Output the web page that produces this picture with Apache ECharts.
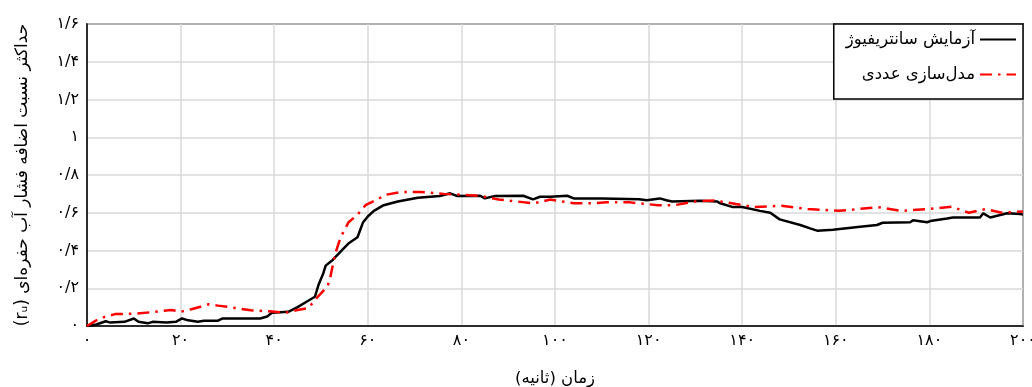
<!DOCTYPE html>
<html>
<head>
<meta charset="utf-8">
<script src="https://cdn.jsdelivr.net/npm/echarts@6/dist/echarts.min.js"></script>
<style>
html,body{margin:0;padding:0;background:#fff;}
#chart{width:1032px;height:387px;}
</style>
</head>
<body>
<div id="chart" dir="rtl"></div>
<script>
// ---- data ----
const seriesNames = ['آزمایش سانتریفیوژ', 'مدل‌سازی عددی'];
const xAxisTitle = 'زمان (ثانیه)';
const yAxisTitle = 'حداکثر نسبت اضافه فشار آب حفره‌ای (rᵤ)';
const xTickLabels = ['۰','۲۰','۴۰','۶۰','۸۰','۱۰۰','۱۲۰','۱۴۰','۱۶۰','۱۸۰','۲۰۰'];
const yTickLabels = ['۰','۰/۲','۰/۴','۰/۶','۰/۸','۱','۱/۲','۱/۴','۱/۶'];

const centrifugeTime = [0,2,4,5,8,10,11,13,14,17,19,20.3,21.6,23.7,25,28,29,37,38.5,39.5,43,45,47,48.7,49.5,50.5,51,52.5,54.8,56,57.8,59,60,61.3,63.4,66.4,70.7,75.4,77.6,79,84,85,87.2,93.2,95.3,96.8,99,102.6,104,110,118,119.6,122.4,123.8,125,131,134.6,135.3,138,140,143.8,146,148,152.4,154.5,156,159.4,165.2,168.8,170,175.9,176.5,179.5,180.5,183.8,185,190.8,191.5,193,196.6,199.4,200];
const centrifugeRu = [0,0.008,0.025,0.018,0.022,0.04,0.022,0.014,0.022,0.018,0.022,0.04,0.03,0.022,0.028,0.028,0.04,0.04,0.05,0.07,0.075,0.1,0.13,0.155,0.22,0.28,0.32,0.35,0.41,0.44,0.47,0.55,0.58,0.61,0.64,0.66,0.68,0.689,0.703,0.689,0.69,0.676,0.689,0.69,0.671,0.685,0.685,0.69,0.676,0.675,0.671,0.666,0.676,0.666,0.66,0.664,0.66,0.65,0.63,0.63,0.61,0.6,0.565,0.535,0.517,0.505,0.51,0.526,0.535,0.547,0.55,0.56,0.55,0.558,0.57,0.575,0.575,0.597,0.575,0.597,0.593,0.59];

const numericTime = [0,2,4,6,10,14.6,18,20,22.5,26,28,31,35,39.6,42.4,45,47.3,49.5,51.4,52,53,54.2,55.9,57.8,59.5,62,63.8,67,71.3,76.2,80,84,88,95.5,99,104,108,111,116,122,125.5,130,134,139,142.6,148.4,154,160.6,165,169,174,180,184.8,188.4,192,195.5,200];
const numericRu = [0,0.03,0.05,0.063,0.065,0.075,0.085,0.075,0.09,0.115,0.108,0.098,0.083,0.077,0.07,0.085,0.095,0.16,0.21,0.26,0.38,0.47,0.55,0.59,0.64,0.67,0.695,0.71,0.71,0.70,0.695,0.69,0.67,0.65,0.67,0.65,0.65,0.655,0.655,0.64,0.64,0.66,0.665,0.645,0.63,0.637,0.62,0.61,0.62,0.63,0.61,0.62,0.632,0.6,0.62,0.6,0.607];

const pair = (xs, ys) => xs.map((x, i) => [x, ys[i]]);
const FONT = 'DejaVu Sans';

const chart = echarts.init(document.getElementById('chart'), null, {renderer: 'canvas'});
chart.setOption({
  animation: false,
  backgroundColor: '#fff',
  textStyle: {fontFamily: FONT, color: '#000'},
  grid: {left: 87, right: 9, top: 24, bottom: 61, show: true, borderColor: '#000', borderWidth: 1.5,
    backgroundColor: 'transparent', containLabel: false, outerBoundsMode: 'none'},
  legend: {
    orient: 'vertical', right: 9, top: 24,
    align: 'right',
    itemWidth: 36, itemHeight: 14, itemGap: 18,
    padding: [7, 6, 16, 12],
    backgroundColor: '#fff', borderColor: '#000', borderWidth: 1.5,
    textStyle: {fontFamily: FONT, fontSize: 16.5, color: '#000'},
    data: [
      {name: seriesNames[0], itemStyle: {opacity: 0}},
      {name: seriesNames[1], itemStyle: {opacity: 0}}
    ]
  },
  xAxis: {
    type: 'value', min: 0, max: 200, interval: 20,
    name: xAxisTitle, nameLocation: 'middle', nameGap: 44,
    nameTextStyle: {fontFamily: FONT, fontSize: 16.5, color: '#000'},
    axisLine: {show: true, lineStyle: {color: '#000', width: 1.5}},
    axisTick: {show: false},
    axisLabel: {margin: 7, fontFamily: FONT, fontSize: 16, color: '#000',
      formatter: v => xTickLabels[Math.round(v / 20)]},
    splitLine: {show: true, lineStyle: {color: '#d9d9d9', width: 1.5}}
  },
  yAxis: {
    type: 'value', min: 0, max: 1.6, interval: 0.2,
    name: yAxisTitle, nameLocation: 'middle', nameGap: 56, nameRotate: 90,
    nameTextStyle: {fontFamily: FONT, fontSize: 17, color: '#000'},
    axisLine: {show: true, lineStyle: {color: '#000', width: 1.5}},
    axisTick: {show: false},
    axisLabel: {margin: 8, fontFamily: FONT, fontSize: 16, color: '#000',
      formatter: v => yTickLabels[Math.round(v / 0.2)]},
    splitLine: {show: true, lineStyle: {color: '#d9d9d9', width: 1.5}}
  },
  series: [
    {
      name: seriesNames[0], type: 'line', data: pair(centrifugeTime, centrifugeRu),
      showSymbol: false, symbol: 'none', z: 3,
      lineStyle: {color: '#000', width: 2.5, type: 'solid'},
      itemStyle: {color: '#000'}
    },
    {
      name: seriesNames[1], type: 'line', data: pair(numericTime, numericRu),
      showSymbol: false, symbol: 'none', z: 4,
      lineStyle: {color: '#ff0000', width: 2.5, type: [12, 6, 2.5, 6]},
      itemStyle: {color: '#ff0000'}
    }
  ]
});
</script>
</body>
</html>
